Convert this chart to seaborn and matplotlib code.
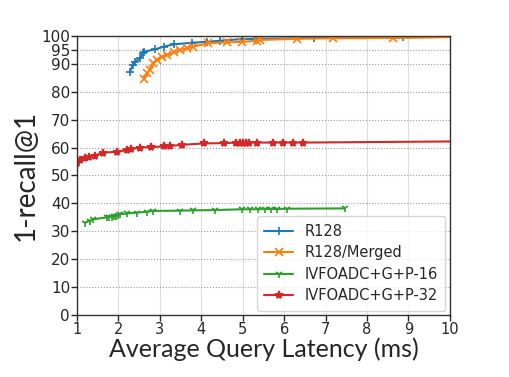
import matplotlib
matplotlib.use("Agg")
import matplotlib.pyplot as plt
import seaborn as sns
import pandas as pd

sns.set_theme(style="white")
plt.rcParams['font.family'] = ['DejaVu Sans']

# latency (ms) vs 1-recall@1 ; last point of each curve is the line end (no marker)
r128_x = [2.28, 2.35, 2.40, 2.52, 2.59, 2.62, 2.88, 3.10, 3.33, 3.77, 4.13, 4.45, 4.98, 5.30, 6.72, 8.87, 10.0]
r128_y = [87.2, 89.6, 90.8, 92.0, 93.8, 94.4, 95.2, 96.2, 97.0, 97.6, 97.9, 98.3, 98.9, 99.0, 99.3, 99.5, 99.7]

merged_x = [2.62, 2.68, 2.75, 2.84, 2.92, 3.05, 3.17, 3.33, 3.49, 3.65, 3.81, 4.17, 4.61, 4.98, 5.34, 5.42, 6.31, 7.19, 8.64, 10.0]
merged_y = [84.5, 86.6, 87.8, 90.2, 91.4, 92.6, 93.2, 94.1, 95.0, 95.6, 96.2, 97.4, 97.7, 97.9, 98.3, 98.6, 99.0, 99.2, 99.3, 99.6]

p16_x = [1.19, 1.31, 1.39, 1.72, 1.78, 1.84, 1.90, 1.95, 2.0, 2.04, 2.20, 2.44, 2.68, 2.84, 3.49, 3.81, 4.33, 4.98, 5.18, 5.38, 5.54, 5.68, 5.82, 6.07, 7.47]
p16_y = [33.1, 33.8, 34.3, 35.0, 35.2, 35.3, 35.4, 35.6, 35.8, 36.1, 36.4, 36.7, 37.0, 37.3, 37.4, 37.5, 37.6, 37.9, 37.9, 37.9, 38.0, 38.0, 38.0, 38.1, 38.2]

p32_x = [1.0, 1.07, 1.19, 1.30, 1.43, 1.62, 1.97, 2.20, 2.30, 2.52, 2.78, 3.10, 3.25, 3.54, 4.07, 4.56, 4.84, 4.94, 5.0, 5.08, 5.16, 5.34, 5.74, 5.98, 6.21, 6.45, 10.0]
p32_y = [54.5, 55.5, 56.2, 56.8, 57.1, 58.2, 58.5, 59.1, 59.4, 60.0, 60.2, 60.4, 60.6, 61.0, 61.5, 61.6, 61.8, 61.8, 61.8, 61.8, 61.8, 61.8, 61.8, 61.8, 61.8, 61.8, 62.2]

series = [
    ("R128", r128_x, r128_y, "+", "#1f77b4", True),
    ("R128/Merged", merged_x, merged_y, "x", "#ff7f0e", True),
    ("IVFOADC+G+P-16", p16_x, p16_y, "1", "#2ca02c", False),
    ("IVFOADC+G+P-32", p32_x, p32_y, "*", "#d62728", True),
]

fig, ax = plt.subplots(figsize=(5.1, 3.77), dpi=100)
fig.subplots_adjust(left=0.151, right=0.882, bottom=0.1645, top=0.9045)

for name, xs, ys, mk, col, open_end in series:
    df = pd.DataFrame({"x": xs, "y": ys})
    n = len(xs) - 1 if open_end else len(xs)
    sns.lineplot(data=df, x="x", y="y", sort=False, marker=mk, color=col,
                 markersize=6, markeredgewidth=1.2, markeredgecolor=col,
                 markevery=list(range(n)),
                 linewidth=1.5, label=name, ax=ax)

ax.set_xlim(1, 10)
ax.set_ylim(0, 100)
ax.set_xticks(range(1, 11))
ax.set_yticks([0, 10, 20, 30, 40, 50, 60, 70, 80, 90, 95, 100])
ax.tick_params(axis='x', labelsize=10.5, length=4, width=1, direction='out', pad=1, bottom=True)
ax.tick_params(axis='y', labelsize=11, length=4, width=1, direction='out', pad=1, left=True)
ax.grid(axis='x', color='#dddddd', linewidth=0.8)
ax.grid(axis='y', color='#999999', linestyle=':', linewidth=0.8)
for s in ax.spines.values():
    s.set_color('#333333')
    s.set_linewidth(1.0)

ax.set_xlabel("Average Query Latency (ms)", fontsize=18, family='Lato', labelpad=0)
ax.set_ylabel("1-recall@1", fontsize=20, family='Lato', labelpad=2)

ax.legend(loc='lower right', fontsize=10.5, frameon=True, handlelength=2.0,
          handletextpad=0.8, borderpad=0.5, labelspacing=0.45, borderaxespad=0.3,
          framealpha=0.8, edgecolor='#cccccc')

fig.savefig("out.png", dpi=100)
